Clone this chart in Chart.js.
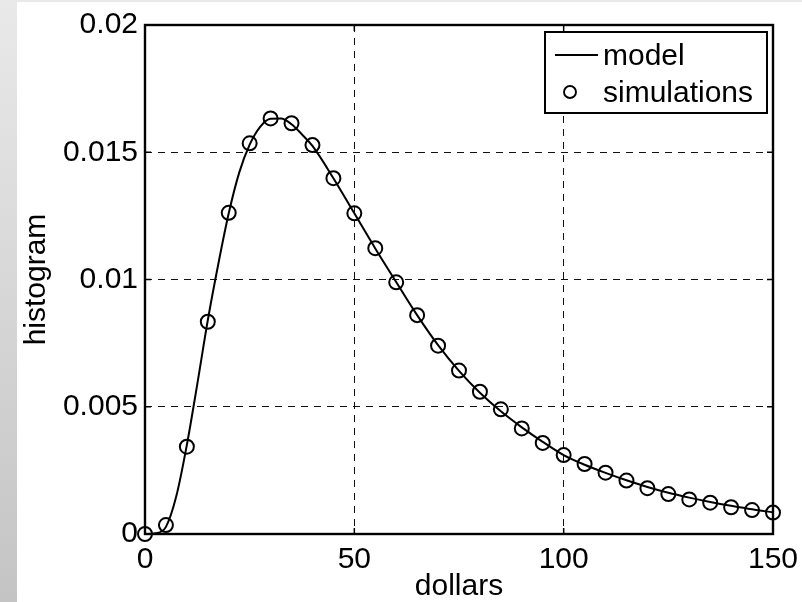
<!DOCTYPE html>
<html>
<head>
<meta charset="utf-8">
<script src="https://cdn.jsdelivr.net/npm/chart.js@4"></script>
<style>
  body { margin: 0; background: linear-gradient(to bottom, #e9e9e9, #c4c4c4); }
  #wrap { position: relative; width: 802px; height: 602px; }
  #paper { position: absolute; left: 17px; top: 2px; right: 0; bottom: 0; background: #fff; }
  #chart { position: absolute; left: 0; top: 0; }
</style>
</head>
<body>
<div id="wrap">
  <div id="paper"></div>
  <canvas id="chart" width="802" height="602"></canvas>
</div>
<script>
const xTickValues = [0, 50, 100, 150];
const xTickLabels = ['0', '50', '100', '150'];
const yTickValues = [0, 0.005, 0.01, 0.015, 0.02];
const yTickLabels = ['0', '0.005', '0.01', '0.015', '0.02'];

// simulated histogram, one circle every 5 dollars
const simDollars = [0, 5, 10, 15, 20, 25, 30, 35, 40, 45, 50, 55, 60, 65, 70, 75, 80, 85, 90, 95, 100,
  105, 110, 115, 120, 125, 130, 135, 140, 145, 150];
const simHist = [0, 0.00035, 0.00343, 0.00834, 0.01262, 0.01535, 0.01633, 0.01614, 0.01528, 0.01398, 0.0126,
  0.01123, 0.00989, 0.0086, 0.0074, 0.00642, 0.00559, 0.0049, 0.00415, 0.00358, 0.0031,
  0.00275, 0.00241, 0.0021, 0.0018, 0.00157, 0.00136, 0.00123, 0.00105, 0.00094, 0.00084];

// model curve
const modelDollars = [0, 2.5, 5, 7.5, 10, 12.5, 15, 17.5, 20, 22.5, 25, 27.5, 30, 32.5, 35, 37.5, 40,
  45, 50, 55, 60, 65, 70, 75, 80, 85, 90, 95, 100, 105, 110, 115, 120, 125, 130, 135, 140, 145, 150];
const modelHist = [0, 0.00003, 0.00028, 0.0015, 0.0035, 0.0059, 0.0084, 0.0106, 0.0126, 0.0142, 0.0153, 0.016, 0.01632, 0.01633, 0.0161, 0.0157, 0.01525,
  0.01398, 0.0126, 0.01122, 0.0099, 0.0086, 0.00742, 0.00641, 0.00555, 0.00482, 0.00419, 0.00362, 0.0031,
  0.00272, 0.0024, 0.00211, 0.00185, 0.00162, 0.00143, 0.00126, 0.00111, 0.00097, 0.00085];

const FONT = "'Liberation Sans', Arial, sans-serif";

const framePlugin = {
  id: 'frame',
  beforeDatasetsDraw(chart) {
    const { ctx, chartArea: a, scales } = chart;
    ctx.save();
    ctx.strokeStyle = '#000';
    ctx.lineWidth = 1.5;
    ctx.beginPath();
    xTickValues.forEach(v => {
      const px = scales.x.getPixelForValue(v);
      ctx.moveTo(px, a.bottom); ctx.lineTo(px, a.bottom - 6);
      ctx.moveTo(px, a.top); ctx.lineTo(px, a.top + 6);
    });
    yTickValues.forEach(v => {
      const py = scales.y.getPixelForValue(v);
      ctx.moveTo(a.left, py); ctx.lineTo(a.left + 6, py);
      ctx.moveTo(a.right, py); ctx.lineTo(a.right - 6, py);
    });
    ctx.stroke();
    ctx.lineWidth = 2.4;
    ctx.strokeRect(a.left, a.top, a.right - a.left, a.bottom - a.top);
    ctx.restore();
  }
};

const legendPlugin = {
  id: 'boxLegend',
  afterDatasetsDraw(chart) {
    const ctx = chart.ctx;
    const ds = chart.data.datasets;
    ctx.save();
    ctx.fillStyle = '#fff';
    ctx.fillRect(545, 32, 222, 81);
    ctx.strokeStyle = '#000';
    ctx.lineWidth = 2;
    ctx.strokeRect(545, 32, 222, 81);
    // line sample
    ctx.lineWidth = 1.9;
    ctx.beginPath();
    ctx.moveTo(555, 55); ctx.lineTo(598, 55);
    ctx.stroke();
    // circle sample
    ctx.beginPath();
    ctx.arc(570, 92, 6, 0, Math.PI * 2);
    ctx.stroke();
    ctx.fillStyle = '#000';
    ctx.font = '30px ' + FONT;
    ctx.textBaseline = 'alphabetic';
    ctx.textAlign = 'left';
    ctx.fillText(ds[0].label, 603, 65);
    ctx.fillText(ds[1].label, 603, 102);
    ctx.restore();
  }
};

new Chart(document.getElementById('chart'), {
  type: 'scatter',
  data: {
    datasets: [
      {
        label: 'model',
        data: modelDollars.map((d, i) => ({ x: d, y: modelHist[i] })),
        showLine: true,
        borderColor: '#000',
        borderWidth: 2,
        pointRadius: 0,
        cubicInterpolationMode: 'monotone',
        clip: false
      },
      {
        label: 'simulations',
        data: simDollars.map((d, i) => ({ x: d, y: simHist[i] })),
        showLine: false,
        pointStyle: 'circle',
        pointRadius: 7,
        pointBorderWidth: 2,
        pointBorderColor: '#000',
        pointBackgroundColor: 'rgba(0,0,0,0)',
        clip: false
      }
    ]
  },
  options: {
    responsive: false,
    animation: false,
    devicePixelRatio: 1,
    layout: { padding: { left: 0, top: 25, right: 29, bottom: 0 } },
    plugins: {
      legend: { display: false },
      tooltip: { enabled: false }
    },
    scales: {
      x: {
        type: 'linear',
        min: 0,
        max: 150,
        afterBuildTicks: s => { s.ticks = xTickValues.map(v => ({ value: v })); },
        afterFit: s => { s.height = 68; s.paddingLeft = 0; s.paddingRight = 0; },
        ticks: {
          color: '#000',
          font: { family: FONT, size: 30 },
          padding: 8,
          maxRotation: 0,
          callback: (v, i) => xTickLabels[i]
        },
        grid: { color: '#111', lineWidth: 1, drawTicks: false },
        border: { display: false, dash: [7, 6] },
        title: {
          display: true,
          text: 'dollars',
          color: '#000',
          font: { family: FONT, size: 30, lineHeight: 1.05 },
          padding: { top: 0, bottom: 0 }
        }
      },
      y: {
        type: 'linear',
        min: 0,
        max: 0.02,
        afterBuildTicks: s => { s.ticks = yTickValues.map(v => ({ value: v })); },
        afterFit: s => { s.width = 145; s.paddingTop = 0; s.paddingBottom = 0; },
        ticks: {
          color: '#000',
          font: { family: FONT, size: 30 },
          padding: 7,
          callback: (v, i) => yTickLabels[i]
        },
        grid: { color: '#111', lineWidth: 1, drawTicks: false },
        border: { display: false, dash: [7, 6] },
        title: {
          display: true,
          text: 'histogram',
          color: '#000',
          font: { family: FONT, size: 30 },
          padding: { top: 19, bottom: 0 }
        }
      }
    }
  },
  plugins: [framePlugin, legendPlugin]
});
</script>
</body>
</html>
